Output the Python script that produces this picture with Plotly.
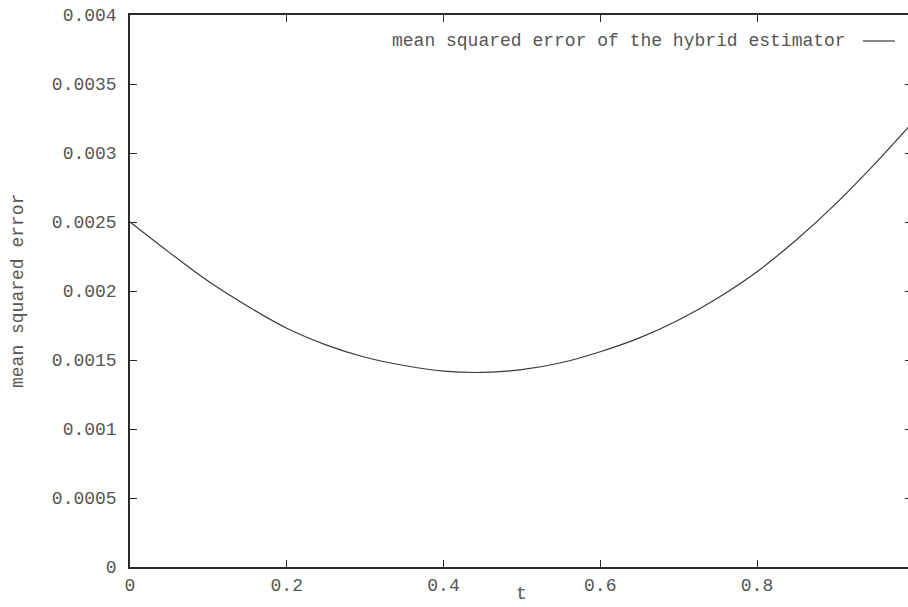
import plotly.graph_objects as go

# Data
t_values = [0.0, 0.05, 0.10, 0.15, 0.20, 0.25, 0.30, 0.35, 0.40, 0.45, 0.50,
            0.55, 0.60, 0.65, 0.70, 0.75, 0.80, 0.85, 0.90, 0.95, 1.00]
mse_values = [0.00250, 0.00228, 0.00207, 0.00189, 0.00173, 0.00161, 0.00152,
              0.00146, 0.00142, 0.00141, 0.00143, 0.00148, 0.00156, 0.00166,
              0.00179, 0.00195, 0.00214, 0.00237, 0.00263, 0.00292, 0.00323]

x_tick_vals = [0, 0.2, 0.4, 0.6, 0.8]
x_tick_text = ["0", "0.2", "0.4", "0.6", "0.8"]
y_tick_vals = [0, 0.0005, 0.001, 0.0015, 0.002, 0.0025, 0.003, 0.0035, 0.004]
y_tick_text = ["0", "0.0005", "0.001", "0.0015", "0.002", "0.0025", "0.003", "0.0035", "0.004"]

legend_label = "mean squared error of the hybrid estimator"
x_title = "t"
y_title = "mean squared error"

W, H = 908, 607
L, T, B = 130, 15, 40
x_range = [0, (W - L) / 783.75]
y_range = [0, 0.004]

FONT = "Liberation Mono, Courier New, monospace"
TXT = "#555555"
AX = "#2a2a2a"

fig = go.Figure()
fig.add_trace(go.Scatter(x=t_values, y=mse_values, mode="lines",
                         line=dict(color="#3a3a3a", width=1.2, shape="spline"),
                         showlegend=False, hoverinfo="skip"))
# invisible trace to activate mirror axes
fig.add_trace(go.Scatter(x=t_values, y=mse_values, mode="lines", xaxis="x2", yaxis="y2",
                         line=dict(width=0, color="rgba(0,0,0,0)"),
                         showlegend=False, hoverinfo="skip"))

fig.update_layout(
    width=W, height=H,
    margin=dict(l=L, r=0, t=T, b=B),
    paper_bgcolor="white", plot_bgcolor="white",
    font=dict(family=FONT, size=18, color=TXT),
    xaxis=dict(range=x_range, tickvals=x_tick_vals, ticktext=x_tick_text,
               ticks="inside", ticklen=7, tickwidth=1.2, tickcolor=AX,
               showline=True, linecolor=AX, linewidth=1.5,
               showgrid=False, zeroline=False, ticklabelstandoff=1),
    yaxis=dict(range=y_range, tickvals=y_tick_vals, ticktext=y_tick_text,
               ticks="inside", ticklen=7, tickwidth=1.2, tickcolor=AX,
               showline=True, linecolor=AX, linewidth=1.5,
               showgrid=False, zeroline=False, ticklabelstandoff=8),
    xaxis2=dict(range=x_range, overlaying="x", side="top", tickvals=x_tick_vals,
                ticks="inside", ticklen=7, tickwidth=1.2, tickcolor=AX,
                showticklabels=False, showline=True, linecolor=AX, linewidth=1.5,
                showgrid=False, zeroline=False),
    yaxis2=dict(range=y_range, overlaying="y", side="right", tickvals=y_tick_vals,
                ticks="inside", ticklen=3, tickwidth=1.2, tickcolor=AX,
                showticklabels=False, showline=False,
                showgrid=False, zeroline=False),
)

pw = W - L
ph = H - T - B
def px2paper(px):
    return (px - L) / pw

leg_y = (H - B - 41) / ph
# legend (gnuplot style, inside top-right)
fig.add_annotation(x=px2paper(848), y=leg_y, xref="paper", yref="paper",
                   text=legend_label, showarrow=False, xanchor="right", yanchor="middle",
                   font=dict(family=FONT, size=18, color=TXT))
fig.add_shape(type="line", xref="paper", yref="paper",
              x0=px2paper(863), x1=px2paper(895), y0=leg_y, y1=leg_y,
              line=dict(color="#3a3a3a", width=1.2))

# axis titles
fig.add_annotation(x=0.5, xref="x", y=-(B - 1) / ph, yref="paper",
                   text=x_title, showarrow=False, xanchor="center", yanchor="bottom",
                   font=dict(family=FONT, size=18, color=TXT))
fig.add_annotation(x=-(L - 18) / pw, xref="paper", y=0.5, yref="paper",
                   text=y_title, showarrow=False, textangle=-90,
                   xanchor="center", yanchor="middle",
                   font=dict(family=FONT, size=18, color=TXT))

fig.write_html("out.html")
